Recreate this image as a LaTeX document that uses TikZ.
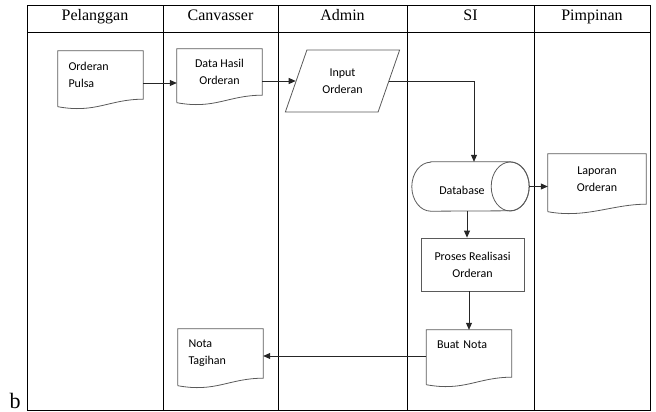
\documentclass[tikz,border=0pt]{standalone}
\usepackage{fontspec}
\setmainfont{Liberation Serif}
\newfontfamily\calibri{Carlito}
\usetikzlibrary{shapes.geometric,arrows.meta,calc}
\definecolor{shapeGray}{RGB}{90,90,90}

\newcommand{\docwave}[1]{%
  \draw[shapeGray,line width=0.8pt] ($(#1.south west)+(0,7.5)$) -- (#1.north west) -- (#1.north east) -- (#1.south east)
    .. controls ($(#1.south east)+(-34,0)$) and ($(#1.south west)+(38,14.5)$) .. ($(#1.south west)+(0,7.5)$);}
\newcommand{\drumshape}[1]{%
  \draw[shapeGray,line width=0.8pt] ($(#1.north west)+(19,0)$) -- ($(#1.north east)+(-19,0)$)
    arc[start angle=90,end angle=-90,x radius=19pt,y radius=24.5pt] -- ($(#1.south west)+(19,0)$)
    arc[start angle=270,end angle=90,x radius=19pt,y radius=24.5pt] -- cycle;
  \draw[shapeGray,line width=0.8pt] ($(#1.east)+(-19,0)$) ellipse[x radius=19pt,y radius=24.5pt];}

\begin{document}
\begin{tikzpicture}[x=1pt,y=-1pt,
  lane/.style={black,line width=1pt},
  head/.style={anchor=base,font=\fontsize{16}{18}\selectfont},
  doc/.style={minimum width=85pt,minimum height=48pt,inner xsep=10.5pt,inner ysep=0pt,font=\calibri\fontsize{12}{17}\selectfont},
  leftdoc/.style={text width=64pt,align=left},
  para/.style={trapezium,draw=shapeGray,line width=0.8pt,trapezium left angle=65.7,trapezium right angle=114.3,trapezium stretches=true,minimum width=115pt,minimum height=62pt,align=center,font=\calibri\fontsize{12}{17}\selectfont},
  store/.style={minimum width=117pt,minimum height=49pt,inner xsep=0pt,font=\calibri\fontsize{12}{17}\selectfont},
  proc/.style={draw=shapeGray,line width=0.8pt,minimum width=103pt,minimum height=53pt,align=center,font=\calibri\fontsize{12}{17}\selectfont},
  arr/.style={black!85,line width=0.8pt,-{Triangle[length=7pt,width=6pt]}}]
  \useasboundingbox (0,0) rectangle (656,412);
  \draw[lane] (27,6) rectangle (650,410);
  \draw[lane] (27,33) -- (650,33);
  \foreach \x in {163,278,407,534} \draw[lane] (\x,6) -- (\x,410);
  \node[head] (hPelanggan) at (95,21) {Pelanggan};
  \node[head] (hCanvasser) at (220.5,21) {Canvasser};
  \node[head] (hAdmin) at (342.5,21) {Admin};
  \node[head] (hSI) at (470.5,21) {SI};
  \node[head] (hPimpinan) at (592,21) {Pimpinan};

  \node[doc,leftdoc] (pulsa) at (100.5,75) {Orderan\\Pulsa};
  \node[doc,align=center,minimum height=46pt] (hasil) at (219.5,72) {Data Hasil\\Orderan};
  \node[para] (input) at (342.5,81) {Input\\Orderan};
  \node[store] (db) at (470.5,186.5) {};
  \node[font=\calibri\fontsize{12}{17}\selectfont] (dbtext) at (462,190) {Database};
  \drumshape{db}
  \node[doc,align=center,minimum width=98pt,minimum height=50pt] (lap) at (597,179) {Laporan\\Orderan};
  \node[proc] (proses) at (472.5,264.5) {Proses Realisasi\\Orderan};
  \node[doc,leftdoc,text depth=18pt,minimum height=47pt] (nota) at (469,353.5) {Buat Nota};
  \node[doc,leftdoc,minimum height=49pt] (tagihan) at (220.5,353.5) {Nota\\Tagihan};
  \docwave{pulsa}
  \docwave{hasil}
  \docwave{lap}
  \docwave{nota}
  \docwave{tagihan}

  \draw[arr] ([yshift=-8pt]pulsa.east) -- ([yshift=-11pt]hasil.west);
  \draw[arr] (hasil.east |- input.west) -- (input.west);
  \draw[arr] (input.east) -| ([xshift=3.5pt]db.north);
  \draw[arr] (db.east) -- (db.east -| lap.west);
  \draw[arr] ([xshift=-3.5pt]db.south) -- ([xshift=-3.5pt]db.south |- proses.north);
  \draw[arr] (proses.south -| nota.north) -- (nota.north);
  \draw[arr] ([yshift=-2.5pt]nota.west) -- ([yshift=-2.5pt]tagihan.east);

  \node[anchor=base west,font=\fontsize{22}{24}\selectfont] (bmark) at (6,408) {b};
\end{tikzpicture}
\end{document}
